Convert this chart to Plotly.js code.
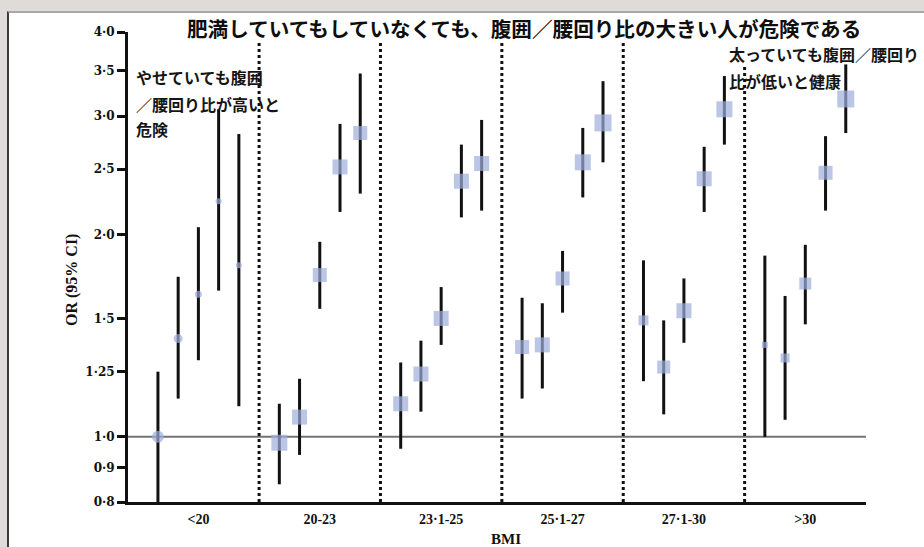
<!DOCTYPE html>
<html>
<head>
<meta charset="utf-8">
<script src="https://cdn.plot.ly/plotly-3.0.1.min.js"></script>
<style>
  html, body { margin: 0; padding: 0; width: 924px; height: 547px; overflow: hidden; background: #dedbd8; }
  #chart {
    position: absolute; left: 7px; top: 11px;
    width: 915px; height: 534px;
    border-left: 2px solid #3a3a3a;
    border-top: 2px solid #a8a8a8;
    background: #ffffff;
  }
</style>
</head>
<body>
<div id="chart"></div>
<script>
// BMI bands on the x axis
const categories = ['<20', '20-23', '23·1-25', '25·1-27', '27·1-30', '>30'];

// Odds ratio for each of the five waist/hip-ratio fifths inside every BMI band
const oddsRatio = [
  [1.00, 1.40, 1.63, 2.24, 1.80],
  [0.98, 1.07, 1.74, 2.52, 2.83],
  [1.12, 1.24, 1.50, 2.40, 2.55],
  [1.36, 1.37, 1.72, 2.56, 2.93],
  [1.49, 1.27, 1.54, 2.42, 3.07],
  [1.37, 1.31, 1.69, 2.47, 3.18]
];

// 95% confidence interval, lower bound
const ciLower = [
  [0.80, 1.14, 1.30, 1.65, 1.11],
  [0.85, 0.94, 1.55, 2.16, 2.30],
  [0.96, 1.09, 1.37, 2.12, 2.17],
  [1.14, 1.18, 1.53, 2.27, 2.56],
  [1.21, 1.08, 1.38, 2.16, 2.72],
  [1.00, 1.06, 1.47, 2.17, 2.83]
];

// 95% confidence interval, upper bound
const ciUpper = [
  [1.25, 1.73, 2.05, 3.07, 2.82],
  [1.12, 1.22, 1.95, 2.92, 3.47],
  [1.29, 1.39, 1.67, 2.72, 2.96],
  [1.61, 1.58, 1.89, 2.88, 3.38],
  [1.83, 1.49, 1.72, 2.70, 3.44],
  [1.86, 1.62, 1.93, 2.80, 3.58]
];

// y-axis tick values and their printed labels
const yTickValues = [0.8, 0.9, 1.0, 1.25, 1.5, 2.0, 2.5, 3.0, 3.5, 4.0];
const yTickLabels = ['0·8', '0·9', '1·0', '1·25', '1·5', '2·0', '2·5', '3·0', '3·5', '4·0'];

// marker size (px) per point
const markerSize = [
  [12, 9, 7, 6, 6],
  [16, 15, 14, 15, 14],
  [15, 15, 15, 15, 15],
  [14, 15, 14, 16, 17],
  [10, 13, 15, 15, 16],
  [6, 9, 12, 14, 17]
];

// ---- layout geometry ----
const W = 915, H = 534;                 // chart box (inside the frame)
const OX = 9, OY = 13;                  // chart box offset on the page
const M = { l: 119, r: 58, t: 19, b: 45 };
const plotW = W - M.l - M.r, plotH = H - M.t - M.b;
const pX = px => (px - OX - M.l) / plotW;        // page px -> paper x
const pY = py => 1 - (py - OY - M.t) / plotH;    // page px -> paper y

const perBand = 5;
const step = perBand + 1;

const xs = [], ys = [], errPlus = [], errMinus = [], sizes = [], symbols = [];
categories.forEach((_, g) => {
  for (let j = 0; j < perBand; j++) {
    const v = oddsRatio[g][j];
    xs.push(g * step + j + 1);
    ys.push(v);
    errPlus.push(ciUpper[g][j] - v);
    errMinus.push(v - ciLower[g][j]);
    sizes.push(markerSize[g][j]);
    symbols.push(g === 0 ? 'circle' : 'square');
  }
});

const xMin = -0.48, xMax = categories.length * step;
const yMin = yTickValues[0], yMax = yTickValues[yTickValues.length - 1];

// reference line at OR = 1
const refLine = {
  x: [xMin, xMax], y: [1, 1], mode: 'lines', type: 'scatter',
  line: { color: '#737373', width: 2 }, hoverinfo: 'skip', showlegend: false
};

// dotted separators between BMI bands
const sepX = [], sepY = [];
for (let g = 1; g < categories.length; g++) {
  const top = g === categories.length - 1 ? 3.58 : 3.86;
  sepX.push(g * step, g * step, null);
  sepY.push(yMin, top, null);
}
const separators = {
  x: sepX, y: sepY, mode: 'lines', type: 'scatter',
  line: { color: '#111', width: 3, dash: 'dot' }, hoverinfo: 'skip', showlegend: false
};

const points = {
  x: xs, y: ys, mode: 'markers', type: 'scatter', showlegend: false,
  marker: { color: '#9eaedd', size: sizes, symbol: symbols, line: { width: 0 } },
  error_y: {
    type: 'data', symmetric: false, array: errPlus, arrayminus: errMinus,
    color: '#111', thickness: 3, width: 0
  }
};

const jpFont = { family: '"Noto Sans CJK JP", "Noto Sans CJK SC", sans-serif', color: '#151515' };
const serif = '"Liberation Serif", "DejaVu Serif", serif';

const note = (text, x, y, size, extra) => Object.assign({
  text: text, xref: 'paper', yref: 'paper', x: x, y: y,
  xanchor: 'left', yanchor: 'middle', showarrow: false, borderpad: 0,
  font: Object.assign({}, jpFont, { size: size, weight: 'bold' })
}, extra || {});

const layout = {
  width: W, height: H,
  margin: M,
  paper_bgcolor: '#ffffff', plot_bgcolor: '#ffffff',
  showlegend: false,
  xaxis: {
    range: [xMin, xMax], showgrid: false, zeroline: false,
    showline: true, linecolor: '#111', linewidth: 3,
    ticks: '', tickmode: 'array',
    tickvals: categories.map((_, g) => g * step + step / 2),
    ticktext: categories,
    ticklabelstandoff: 2,
    tickfont: { family: serif, size: 14, color: '#111', weight: 'bold' }
  },
  yaxis: {
    type: 'log', range: [Math.log10(yMin), Math.log10(yMax)],
    showgrid: false, zeroline: false,
    showline: true, linecolor: '#111', linewidth: 3,
    ticks: 'outside', ticklen: 8, tickwidth: 3, tickcolor: '#111',
    tickmode: 'array', tickvals: yTickValues, ticktext: yTickLabels,
    tickfont: { family: '"DejaVu Serif", serif', size: 12, color: '#111', weight: 'bold' }
  },
  annotations: [
    note('肥満していてもしていなくても、腹囲／腰回り比の大きい人が危険である',
      pX(524), pY(28), 20.6, { xanchor: 'center', font: Object.assign({}, jpFont, { size: 20.6, weight: 'bold', color: '#0e0e0e' }) }),
    note('やせていても腹囲', pX(135), pY(77), 16),
    note('／腰回り比が高いと', pX(135), pY(104), 16),
    note('危険', pX(135), pY(129), 16),
    note('太っていても腹囲／腰回り', pX(728), pY(54), 16),
    note('比が低いと健康', pX(728), pY(81), 16),
    {
      text: 'OR (95% CI)', xref: 'paper', yref: 'paper', x: pX(72), y: pY(280),
      xanchor: 'center', yanchor: 'middle', textangle: -90, showarrow: false,
      font: { family: serif, size: 16, color: '#111', weight: 'bold' }
    },
    {
      text: 'BMI', xref: 'paper', yref: 'paper', x: pX(506), y: pY(539),
      xanchor: 'center', yanchor: 'middle', showarrow: false,
      font: { family: serif, size: 15, color: '#111', weight: 'bold' }
    }
  ]
};

Plotly.newPlot('chart', [refLine, separators, points], layout, { staticPlot: true, displayModeBar: false });
</script>
</body>
</html>
